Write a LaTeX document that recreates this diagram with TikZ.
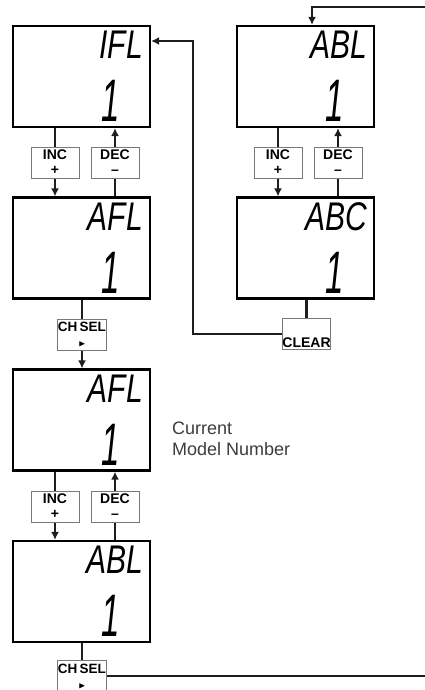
\documentclass[tikz,border=0pt]{standalone}
\usepackage{amssymb}
\usepackage{fontspec}
\setmainfont{Liberation Sans}
\usepackage{tikz}
\usetikzlibrary{positioning,arrows.meta}
\tikzstyle{panel} = [x = 1pt, y = -1pt]
\definecolor{wireColor}{RGB}{30,30,30}
\definecolor{keyColor}{RGB}{120,120,120}
\definecolor{labelColor}{RGB}{60,60,60}
\tikzstyle{displayStyle} = [draw=black, line width=2.2pt, minimum width=137pt, minimum height=101pt, inner sep=0pt]
\tikzstyle{keyStyle} = [draw=keyColor, line width=1pt, fill=white, minimum width=48pt, minimum height=31pt, inner sep=0pt, align=center, font=\bfseries\fontsize{14}{15}\selectfont]
\tikzstyle{selKey} = [keyStyle, font=\bfseries\fontsize{13.5}{15}\selectfont]
\tikzstyle{lcdTop} = [inner sep=0pt, xscale=.75, font=\itshape\fontsize{40}{40}\selectfont]
\tikzstyle{lcdDigit} = [inner sep=0pt, xscale=.55, font=\itshape\fontsize{60}{60}\selectfont]
\tikzstyle{wire} = [color=wireColor, line width=2.2pt]
\tikzstyle{wireArrow} = [wire, -{Latex[length=8pt, width=8pt]}]
\newcommand{\lcdPanel}[5]{
  \node [displayStyle] (#1) at (#2, #3) {};
  \node [lcdTop, below left = 6pt and 8pt of #1.north east] (#1Top) {#4};
  \node [lcdDigit, above left = 6pt and 31pt of #1.south east] (#1Digit) {#5};
}
\newcommand{\incDecKeys}[3]{
  \draw [wire] (#3Inc.north |- #1.south) -- (#3Inc.north);
  \draw [wireArrow] (#3Inc.south) -- (#3Inc.south |- #2.north);
  \draw [wire] (#3Dec.south |- #2.north) -- (#3Dec.south);
  \draw [wireArrow] (#3Dec.north) -- (#3Dec.north |- #1.south);
}

\begin{document}
\begin{tikzpicture}[panel]
  \useasboundingbox (0,0) rectangle (425,690);
  \lcdPanel{ifl}{81.5}{76.5}{IFL}{1}
  \lcdPanel{afl}{81.5}{248}{AFL}{1}
  \lcdPanel{abl}{305.5}{76.5}{ABL}{1}
  \lcdPanel{abc}{305.5}{248}{ABC}{1}
  \lcdPanel{aflCur}{81.5}{420}{AFL}{1}
  \lcdPanel{ablCur}{81.5}{591.5}{ABL}{1}

  \node [keyStyle] (topInc) at (55, 162.5) {INC\\+};
  \node [keyStyle] (topDec) at (115, 162.5) {DEC\\--};
  \node [keyStyle] (rightInc) at (278, 162.5) {INC\\+};
  \node [keyStyle] (rightDec) at (338, 162.5) {DEC\\--};
  \node [keyStyle] (curInc) at (55, 506.5) {INC\\+};
  \node [keyStyle] (curDec) at (115, 506.5) {DEC\\--};
  \node [selKey] (selA) at (82, 334.5) {CH\,SEL\\{\small$\blacktriangleright$}};
  \node [selKey] (selB) at (82, 676) {CH\,SEL\\{\small$\blacktriangleright$}};
  \node [keyStyle, text height=27pt, text depth=0pt] (clearKey) at (306.5, 334) {CLEAR};

  \node [anchor=north west, inner sep=0pt, align=left, text=labelColor,
    font=\fontsize{18}{21}\selectfont] (modelLabel) at (172, 422) {Current\\Model Number};

  \incDecKeys{ifl}{afl}{top}
  \incDecKeys{abl}{abc}{right}
  \incDecKeys{aflCur}{ablCur}{cur}

  \draw [wire] (selA.north |- afl.south) -- (selA.north);
  \draw [wireArrow] (selA.south) -- (selA.south |- aflCur.north);
  \draw [wire] (selB.north |- ablCur.south) -- (selB.north);
  \draw [wire] (clearKey.north |- abc.south) -- (clearKey.north);

  % loops back round
  \coordinate (topIn) at (425, 7);
  \coordinate (bottomOut) at (425, 676);
  \coordinate (clearTurn) at (193, 41);
  \draw [wireArrow] (topIn) -| ([xshift=6.5pt]abl.north);
  \draw [wireArrow] (clearKey.west) -| (clearTurn) -- (clearTurn -| ifl.east);
  \draw [wire] (selB.east) -- (selB.east -| bottomOut);
\end{tikzpicture}
\end{document}
